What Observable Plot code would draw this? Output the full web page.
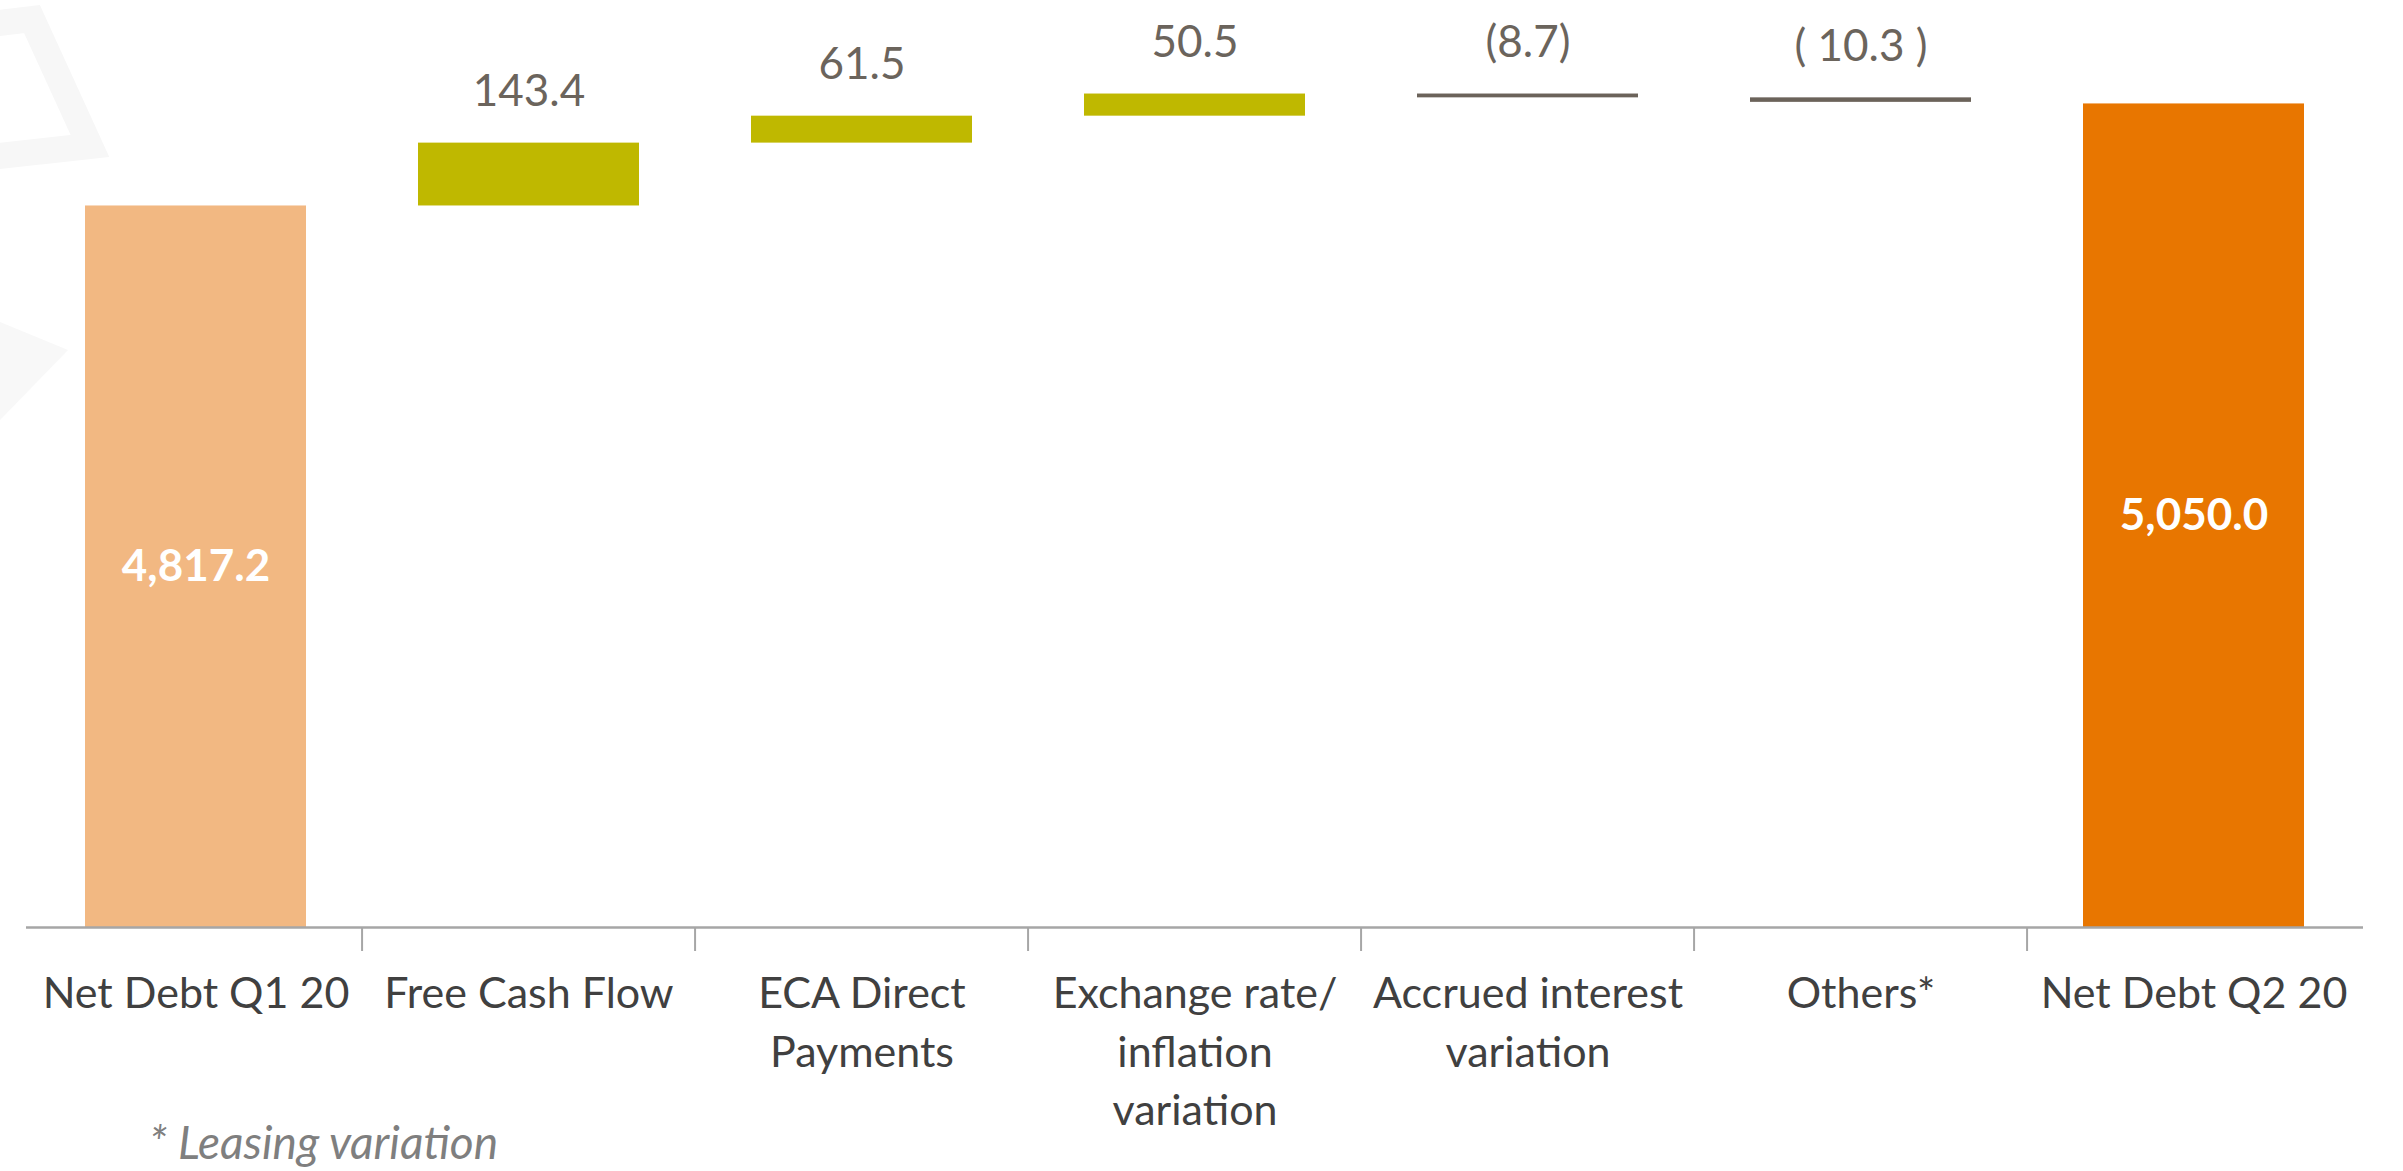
<!DOCTYPE html>
<html>
<head>
<meta charset="utf-8">
<script src="https://cdn.jsdelivr.net/npm/d3@7"></script>
<script src="https://cdn.jsdelivr.net/npm/@observablehq/plot@0.6"></script>
<style>
  html, body { margin: 0; padding: 0; background: #ffffff; }
  #wrap { position: relative; width: 2403px; height: 1171px; overflow: hidden; }
  #bg { position: absolute; left: 0; top: 0; }
  #chart { position: absolute; left: 0; top: 0; }
  #note { position: absolute; left: 149px; top: 1119px; font-family: Lato, sans-serif; font-style: italic;
          font-size: 46px; line-height: 46px; color: #7f7f7f; white-space: nowrap; }
</style>
</head>
<body>
<div id="wrap">
  <svg id="bg" width="200" height="460" aria-hidden="true">
    <polyline points="-10,24 32,19 90,146 -10,157" fill="none" stroke="#f7f7f7" stroke-width="26" stroke-linejoin="miter"/>
    <polygon points="0,322 68,350 0,420" fill="#f8f8f8"/>
  </svg>
  <div id="chart"></div>
  <div id="note">* Leasing variation</div>
</div>
<script>
// ---- data ----
const categories = ["Net Debt Q1 20", "Free Cash Flow", "ECA Direct\nPayments", "Exchange rate/\ninflation\nvariation", "Accrued interest\nvariation", "Others*", "Net Debt Q2 20"];
const values = [4817.2, 143.4, 61.5, 50.5, -8.7, -10.3, 5050.0];
const kinds = ["start", "up", "up", "up", "down", "down", "end"];
const valueLabels = ["4,817.2", "143.4", "61.5", "50.5", "(8.7)", "( 10.3 )", "5,050.0"];
const yDomain = [3171, 5286];

// ---- layout ----
const W = 2403, H = 1171;
const margin = {left: 26, right: 40, top: 0, bottom: 244};
const step = (W - margin.left - margin.right) / categories.length;

// ---- build waterfall rows ----
let running = 0;
const rows = categories.map((cat, i) => {
  const v = values[i];
  let y1, y2;
  if (kinds[i] === "start" || kinds[i] === "end") {
    y1 = yDomain[0]; y2 = v; running = v;
  } else {
    y1 = running; y2 = running + v; running = y2;
  }
  return {cat, value: v, kind: kinds[i], label: valueLabels[i], y1, y2, top: Math.max(y1, y2)};
});
const totals = rows.filter(d => d.kind === "start" || d.kind === "end");
const deltas = rows.filter(d => d.kind === "up" || d.kind === "down");

const font = "Lato, 'Open Sans', sans-serif";

const chart = Plot.plot({
  width: W,
  height: H,
  marginLeft: margin.left,
  marginRight: margin.right,
  marginTop: margin.top,
  marginBottom: margin.bottom,
  style: {fontFamily: font, background: "transparent", overflow: "visible"},
  x: {domain: categories, paddingInner: 0.337, paddingOuter: 0.1685, axis: null},
  y: {domain: yDomain, axis: null},
  color: {domain: ["start", "up", "down", "end"], range: ["#F2B882", "#BFB800", "#6B635A", "#E87600"]},
  marks: [
    Plot.barY(rows, {x: "cat", y1: "y1", y2: "y2", fill: "kind"}),
    Plot.ruleY([yDomain[0]], {stroke: "#a6a6a6", strokeWidth: 2.5}),
    Plot.ruleX(categories.slice(1), {x: d => d, y1: yDomain[0], y2: yDomain[0], dx: -step / 2, insetBottom: -24, stroke: "#a6a6a6", strokeWidth: 2}),
    Plot.axisX({tickSize: 0, tickPadding: 39, fontSize: 43, lineHeight: 1.36, color: "#404040", fill: "#404040", label: null}),
    Plot.text(deltas, {x: "cat", y: "top", text: "label", dy: -51, fontSize: 44, fill: "#6B645C"}),
    Plot.text(totals, {x: "cat", y: d => (yDomain[0] + d.value) / 2, text: "label", fontSize: 44, fontWeight: "bold", fill: "#ffffff"})
  ]
});
document.getElementById("chart").appendChild(chart);
</script>
</body>
</html>
